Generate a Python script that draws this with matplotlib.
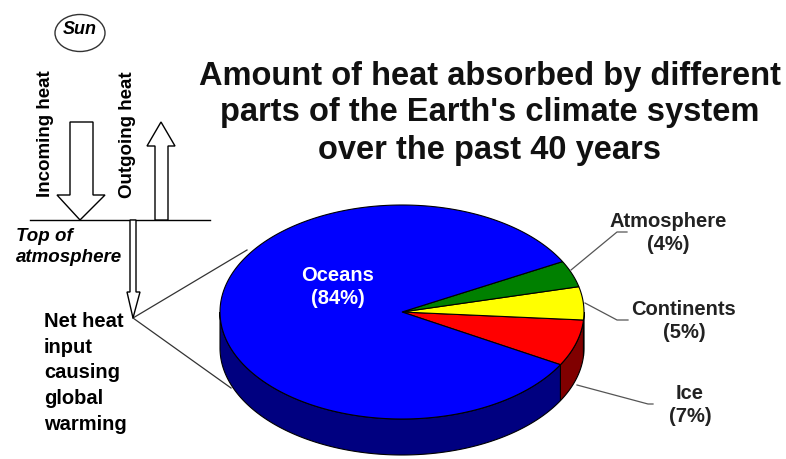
import numpy as np
import matplotlib
matplotlib.use('Agg')
import matplotlib.pyplot as plt
from matplotlib.patches import Polygon, Ellipse

plt.rcParams['font.family'] = ['Liberation Sans', 'DejaVu Sans']

# Data
parts = ['Ice', 'Continents', 'Atmosphere', 'Oceans']
share = [7, 5, 4, 84]
top_col = ['#ff0000', '#ffff00', '#008000', '#0000ff']
side_col = ['#800000', '#808000', '#004000', '#000080']

title = "Amount of heat absorbed by different\nparts of the Earth's climate system\nover the past 40 years"

# Geometry (pixels)
W, H = 786, 459
cx, cy, rx, ry, depth = 402, 312, 182, 107, 36
start = -29.5

fig = plt.figure(figsize=(W/100, H/100), dpi=100)
ax = fig.add_axes([0, 0, 1, 1])
ax.set_xlim(0, W)
ax.set_ylim(H, 0)
ax.axis('off')

def pt(t, dy=0):
    t = np.radians(t)
    return cx + rx*np.cos(t), cy - ry*np.sin(t) + dy

# slice angles from data
edges = start + np.concatenate([[0], np.cumsum(share)]) * 3.6

# sides (front half only)
for i in range(len(parts)):
    a0, a1 = edges[i], edges[i+1]
    for lo, hi in [(a0, a1), (a0 - 360, a1 - 360)]:
        s0, s1 = max(lo, -180), min(hi, 0)
        if s1 <= s0:
            continue
        tt = np.linspace(s0, s1, 200)
        top = [pt(t) for t in tt]
        bot = [pt(t, depth) for t in tt[::-1]]
        ax.add_patch(Polygon(top + bot, closed=True, fc=side_col[i], ec='black', lw=0.8, zorder=2))

# tops
for i in range(len(parts)):
    tt = np.linspace(edges[i], edges[i+1], 300)
    poly = [(cx, cy)] + [pt(t) for t in tt]
    ax.add_patch(Polygon(poly, closed=True, fc=top_col[i], ec='black', lw=0.8, zorder=3))

# labels
lab_font = dict(fontsize=14.5, fontweight='bold', ha='center', va='center', linespacing=1.3)
ax.text(338, 287, 'Oceans\n(84%)', color='white', zorder=5, **lab_font)
ax.text(668, 233, 'Atmosphere\n(4%)', color='#222222', **lab_font)
ax.text(684, 321, 'Continents\n(5%)', color='#222222', **lab_font)
ax.text(690, 405, 'Ice\n(7%)', color='#222222', **lab_font)

# leader lines
ax.plot([571, 617, 627], [270, 232, 232], color='#555555', lw=0.9, zorder=4)
ax.plot([585, 617, 628], [303, 320, 320], color='#555555', lw=0.9, zorder=4)
ax.plot([577, 648, 653], [385, 404, 404], color='#555555', lw=0.9, zorder=4)

# title
ax.text(490, 113, title, fontsize=23.5, fontweight='bold', ha='center', va='center',
        linespacing=1.25, color='#111111')

# left schematic
ax.add_patch(Ellipse((80, 33), 50, 37, fc='white', ec='#333333', lw=1))
ax.text(80, 29, 'Sun', fontsize=13, fontweight='bold', style='italic', ha='center', va='center')

ax.plot([30, 210], [220, 220], color='black', lw=1)

# incoming arrow
inc = [(70, 122), (93, 122), (93, 195), (105, 195), (80, 220), (57, 195), (70, 195)]
ax.add_patch(Polygon(inc, closed=True, fc='white', ec='black', lw=1, zorder=3))
# outgoing arrow
out = [(155, 220), (168, 220), (168, 146), (175, 146), (161, 122), (147, 146), (155, 146)]
ax.add_patch(Polygon(out, closed=True, fc='white', ec='black', lw=1, zorder=3))
# net arrow
net = [(130, 220), (136, 220), (136, 292), (140, 292), (133, 318), (127, 292), (130, 292)]
ax.add_patch(Polygon(net, closed=True, fc='white', ec='black', lw=1, zorder=3))

ax.text(45, 134, 'Incoming heat', rotation=90, fontsize=13.5, fontweight='bold', ha='center', va='center')
ax.text(128, 135, 'Outgoing heat', rotation=90, fontsize=13.5, fontweight='bold', ha='center', va='center')

ax.text(16, 247, 'Top of\natmosphere', fontsize=13.5, fontweight='bold', style='italic',
        ha='left', va='center', linespacing=1.25)

ax.text(44, 373, 'Net heat\ninput\ncausing\nglobal\nwarming', fontsize=14.5, fontweight='bold',
        ha='left', va='center', linespacing=1.45)

# connecting lines to pie
ax.plot([133, 247], [318, 250], color='#333333', lw=0.9, zorder=1)
ax.plot([133, 231], [318, 388], color='#333333', lw=0.9, zorder=1)

fig.savefig('out.png', dpi=100, facecolor='white')
